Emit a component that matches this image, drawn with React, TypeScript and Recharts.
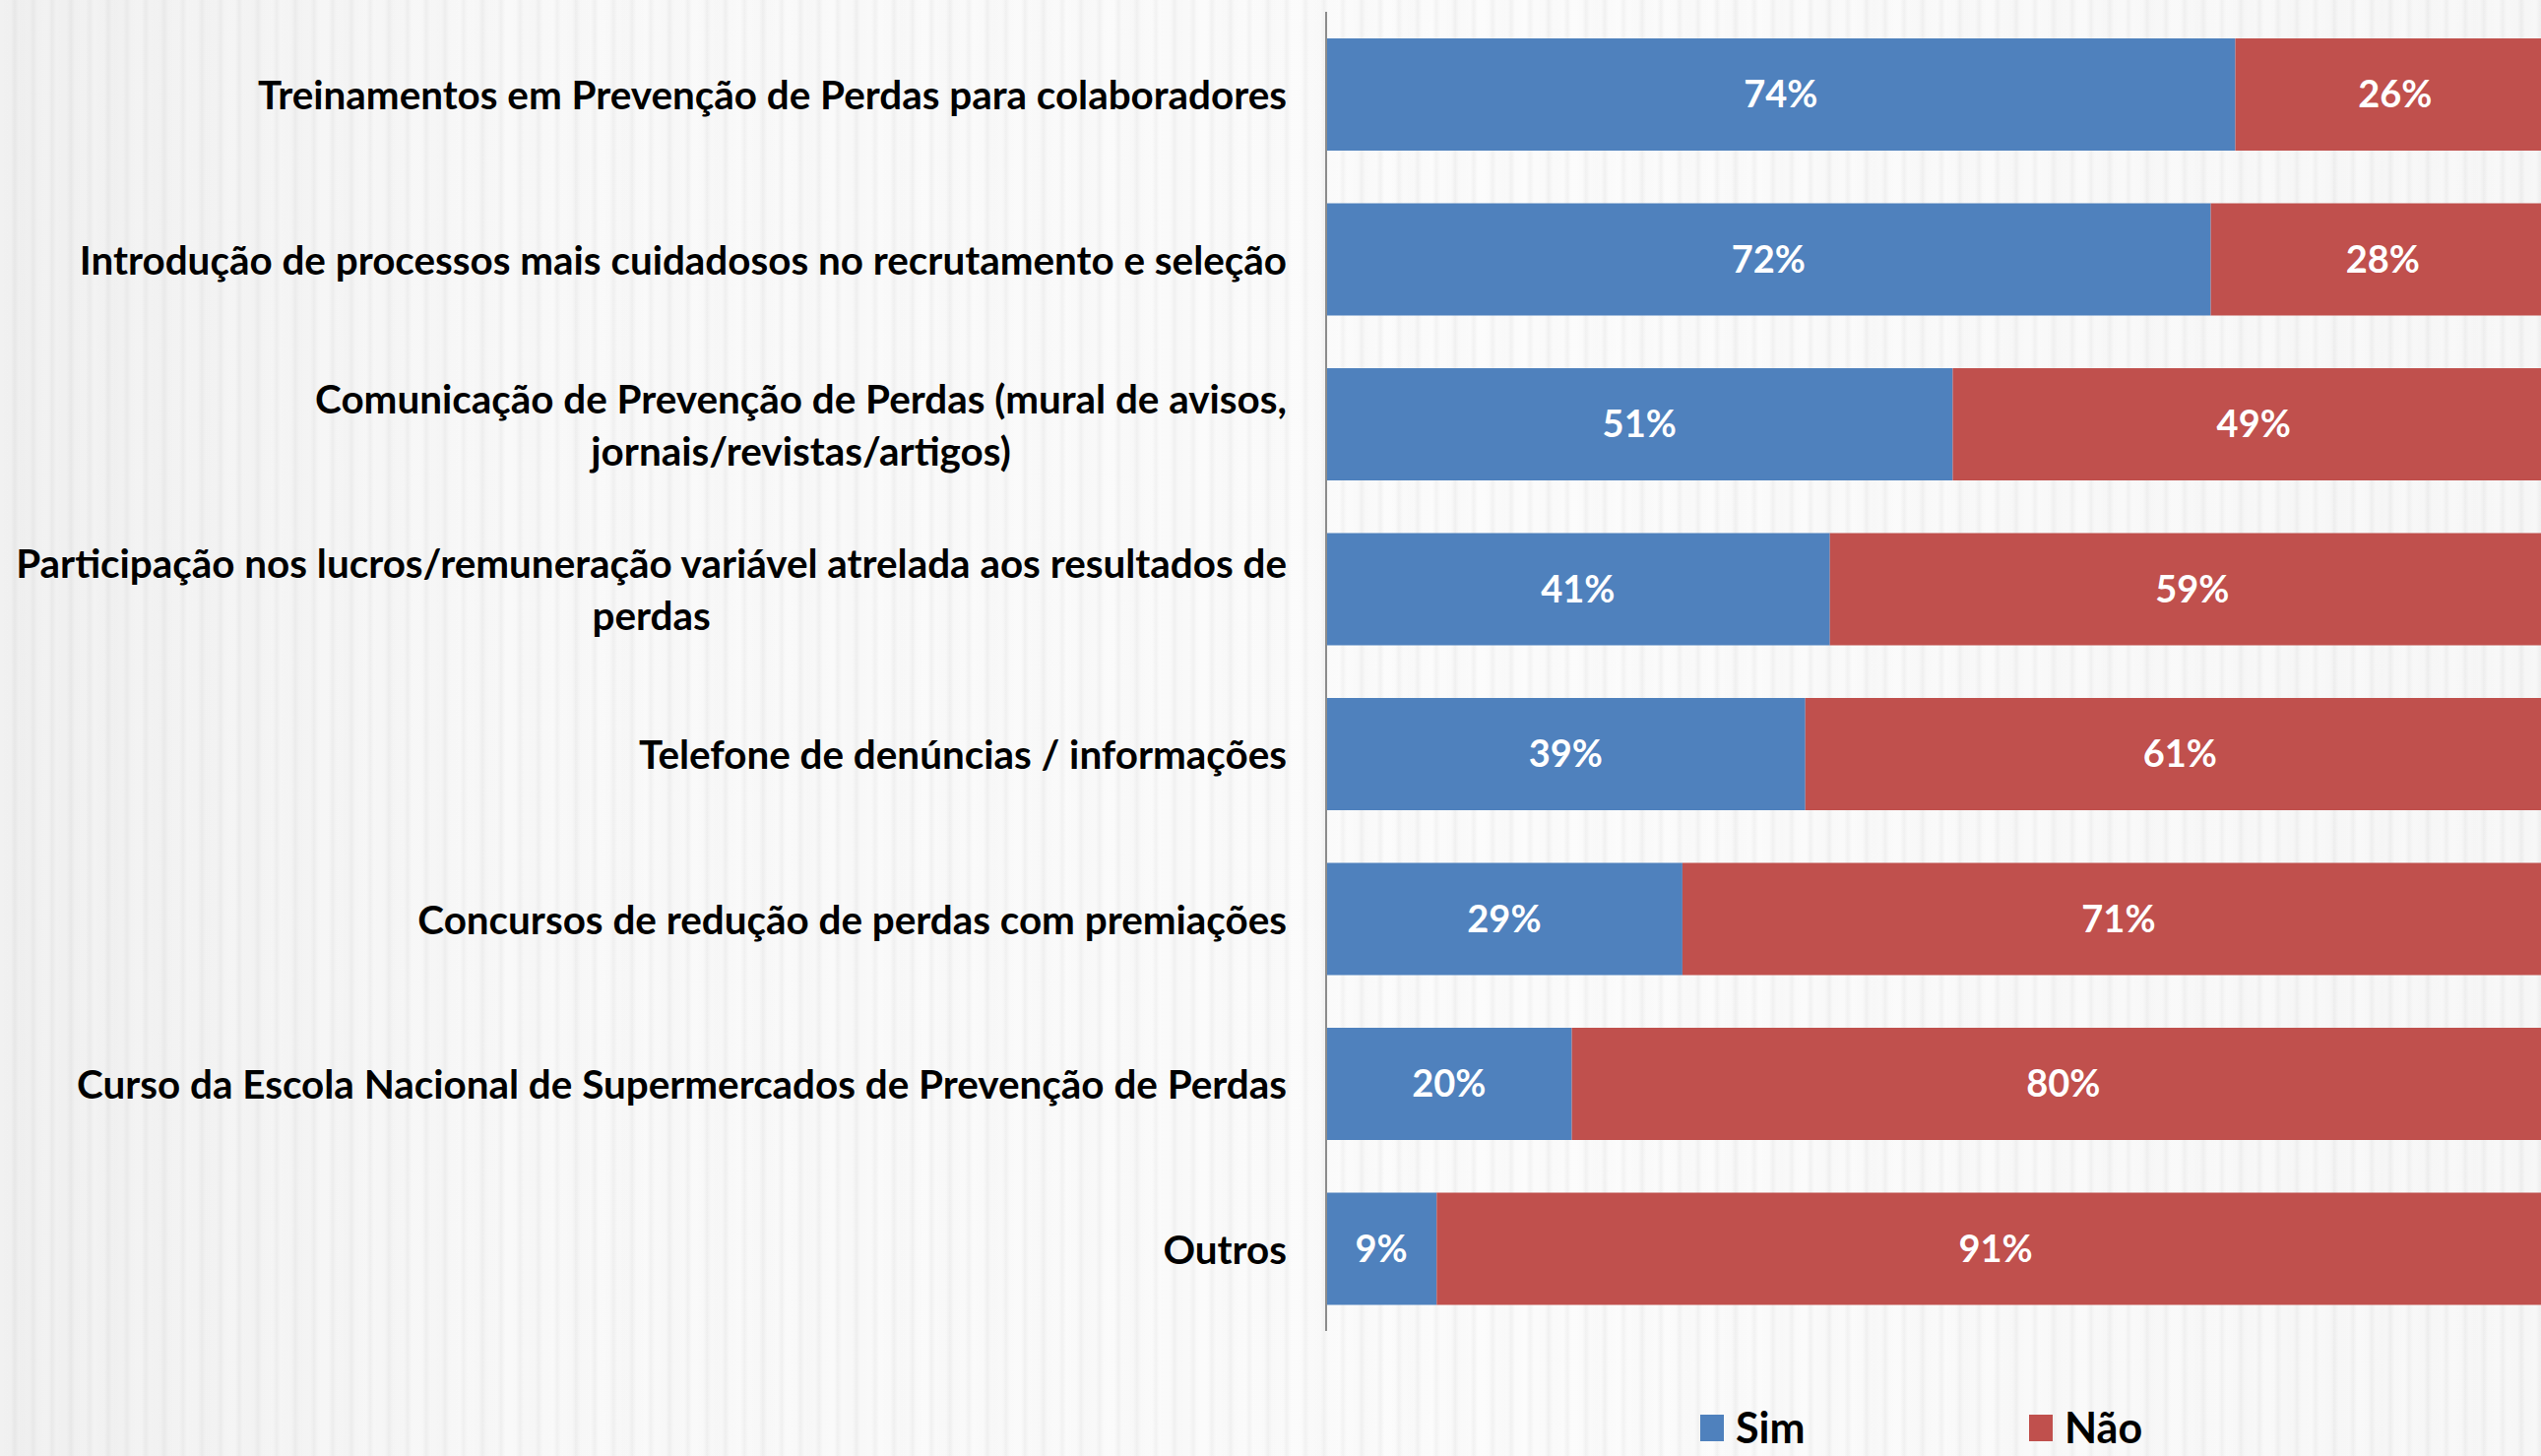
import React from "react";
import { BarChart, Bar, XAxis, YAxis, LabelList, Legend } from "recharts";

// Categories (line breaks where the original label wraps)
const categories = [
  "Treinamentos em Prevenção de Perdas para colaboradores",
  "Introdução de processos mais cuidadosos no recrutamento e seleção",
  "Comunicação de Prevenção de Perdas (mural de avisos,\njornais/revistas/artigos)",
  "Participação nos lucros/remuneração variável atrelada aos resultados de\nperdas",
  "Telefone de denúncias / informações",
  "Concursos de redução de perdas com premiações",
  "Curso da Escola Nacional de Supermercados de Prevenção de Perdas",
  "Outros",
];

const seriesNames = ["Sim", "Não"];
const simValues = [74, 72, 51, 41, 39, 29, 20, 9];
const naoValues = [26, 28, 49, 59, 61, 71, 80, 91];

const BLUE = "#4F81BD";
const RED = "#C0504D";
const FONT = "Lato, 'Open Sans', sans-serif";

const chartData = categories.map((name, i) => ({
  name,
  sim: simValues[i],
  nao: naoValues[i],
}));

const CategoryTick = (props: any) => {
  const { x, y, payload } = props;
  const lines = String(payload.value).split("\n");
  return (
    <foreignObject x={0} y={y - 70} width={x} height={140}>
      <div
        style={{
          display: "flex",
          height: "100%",
          alignItems: "center",
          justifyContent: "flex-end",
        }}
      >
        <div
          style={{
            textAlign: "center",
            fontFamily: FONT,
            fontWeight: 700,
            fontSize: 40.4,
            lineHeight: "53px",
            color: "#000",
            whiteSpace: "nowrap",
          }}
        >
          {lines.map((l, i) => (
            <div key={i}>{l}</div>
          ))}
        </div>
      </div>
    </foreignObject>
  );
};

const renderLegend = (props: any) => {
  const items = [...(props.payload || [])].sort(
    (a: any, b: any) => seriesNames.indexOf(a.value) - seriesNames.indexOf(b.value)
  );
  return (
    <div style={{ display: "flex", fontFamily: FONT }}>
      {items.map((entry: any, i: number) => (
        <div
          key={i}
          style={{
            display: "flex",
            alignItems: "center",
            width: 334,
          }}
        >
          <span
            style={{
              display: "inline-block",
              width: 24,
              height: 27,
              background: entry.color,
              marginRight: 12,
            }}
          />
          <span style={{ fontSize: 43, fontWeight: 700, color: "#000", lineHeight: "44px" }}>
            {entry.value}
          </span>
        </div>
      ))}
    </div>
  );
};

export default function App() {
  return (
    <div
      style={{
        position: "absolute",
        left: 0,
        top: 0,
        width: 2581,
        height: 1479,
        overflow: "hidden",
        background:
          "repeating-linear-gradient(90deg, rgba(0,0,0,0) 0px, rgba(0,0,0,0) 11px, rgba(0,0,0,0.035) 15px, rgba(0,0,0,0) 19px), repeating-linear-gradient(90deg, rgba(0,0,0,0) 0px, rgba(0,0,0,0.012) 23px, rgba(0,0,0,0) 47px), linear-gradient(90deg, #f1f1f1 0%, #f9f9f9 20%, #fcfcfc 60%, #f8f8f8 100%)",
      }}
    >
      <BarChart
        width={2600}
        height={1479}
        data={chartData}
        layout="vertical"
        margin={{ top: 12, right: 5, bottom: 127, left: 0 }}
      >
        <XAxis type="number" domain={[0, 100]} hide />
        <YAxis
          type="category"
          dataKey="name"
          width={1347}
          tickLine={false}
          tickSize={0}
          tickMargin={40}
          axisLine={{ stroke: "#8c8c8c", strokeWidth: 2 }}
          tick={<CategoryTick />}
          interval={0}
        />
        <Legend
          content={renderLegend}
          wrapperStyle={{ position: "absolute", left: 1727, top: 1428, width: 700, height: 0 }}
        />
        <Bar dataKey="sim" name={seriesNames[0]} stackId="a" fill={BLUE} barSize={114} isAnimationActive={false}>
          <LabelList
            dataKey="sim"
            position="center"
            formatter={(v: any) => `${v}%`}
            fill="#fff"
            fontSize={38}
            fontWeight={700}
            fontFamily={FONT}
          />
        </Bar>
        <Bar dataKey="nao" name={seriesNames[1]} stackId="a" fill={RED} barSize={114} isAnimationActive={false}>
          <LabelList
            dataKey="nao"
            position="center"
            formatter={(v: any) => `${v}%`}
            fill="#fff"
            fontSize={38}
            fontWeight={700}
            fontFamily={FONT}
          />
        </Bar>
      </BarChart>
    </div>
  );
}
